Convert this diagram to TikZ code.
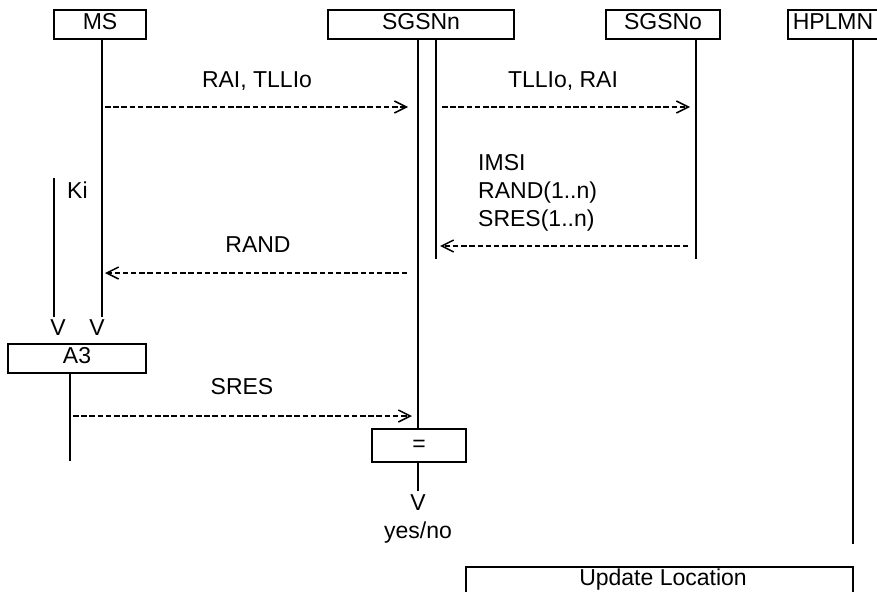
\documentclass[tikz,border=0pt]{standalone}
\usepackage{fontspec}
\setmainfont{Liberation Sans}
\usetikzlibrary{arrows.meta}
\begin{document}
\begin{tikzpicture}[x=1pt,y=-1pt,
  every node/.style={font=\fontsize{23}{28}\selectfont},
  entity/.style={draw,line width=1.5pt,inner xsep=0pt,inner ysep=0pt,minimum height=29pt,text height=20pt,text depth=9pt},
  life/.style={line width=1.5pt},
  msg/.style={line width=1.3pt,dash pattern=on 5.5pt off 2.7pt,-{Straight Barb[length=12pt,width=12pt,line width=1.5pt]}},
  lbl/.style={anchor=base,inner sep=0pt}]
\useasboundingbox (0,0) rectangle (877,591);
\clip (0,0) rectangle (877,591);
% entities
\node[entity,minimum width=92pt] (ms) at (100,24.5) {MS};
\node[entity,minimum width=186pt] (sgsnn) at (421,24.5) {SGSNn};
\node[entity,minimum width=114pt] (sgsno) at (663,24.5) {SGSNo};
\node[entity,anchor=west,minimum width=120pt,text width=110pt,inner xsep=5pt,align=left] (hplmn) at (787,24.5) {HPLMN};
% lifeline coordinates
\coordinate (msT) at (102,39);   \coordinate (msB) at (102,317);
\coordinate (kiT) at (54,178);   \coordinate (kiB) at (54,317);
\coordinate (nAT) at (418,39);
\coordinate (nBT) at (436,39);   \coordinate (nBB) at (436,259);
\coordinate (oT) at (696,39);    \coordinate (oB) at (696,259);
\coordinate (hT) at (853,39);    \coordinate (hB) at (853,544);
% boxes
\node[entity,minimum width=138pt,text height=19pt,text depth=10pt] (a3) at (77,358.5) {A3};
\node[draw,line width=1.5pt,minimum width=94pt,minimum height=33pt,inner sep=0pt] (eq) at (419,445.5) {=};
\node[draw,line width=1.5pt,anchor=north,minimum width=387pt,inner sep=0pt,text height=19pt,text depth=31pt] (ul) at (659.5,566) {\hspace*{7pt}Update Location};
\coordinate (a3B) at (70,461);
\coordinate (eqB) at (418,491);
% lifelines
\draw[life] (msT) -- (msB);
\draw[life] (kiT) -- (kiB);
\draw[life] (nAT) -- (eq.north -| nAT);
\draw[life] (nBT) -- (nBB);
\draw[life] (oT) -- (oB);
\draw[life] (hT) -- (hB);
\draw[life] (a3.south -| a3B) -- (a3B);
\draw[life] (eq.south -| eqB) -- (eqB);
% V marks
\node[lbl] (v1) at (58,335) {V};
\node[lbl] (v2) at (97,335) {V};
\node[lbl] (v3) at (418,510) {V};
\node[lbl] (yn) at (418,538) {yes/no};
\node[lbl,anchor=base west] (ki) at (67,198) {Ki};
% messages
\coordinate (m1a) at (105,107); \coordinate (m1b) at (408,107);
\coordinate (m2a) at (442,107); \coordinate (m2b) at (690,107);
\coordinate (m3a) at (688,246); \coordinate (m3b) at (440,246);
\coordinate (m4a) at (407,273); \coordinate (m4b) at (105,273);
\coordinate (m5a) at (73,416);  \coordinate (m5b) at (412,416);
\draw[msg] (m1a) -- (m1b);
\draw[msg] (m2a) -- (m2b);
\draw[msg] (m3a) -- (m3b);
\draw[msg] (m4a) -- (m4b);
\draw[msg] (m5a) -- (m5b);
\node[lbl] (l1) at (257,88) {RAI, TLLIo};
\node[lbl] (l2) at (563,88) {TLLIo, RAI};
\node[lbl] (l4) at (258,252) {RAND};
\node[lbl] (l5) at (242,394) {SRES};
\node[anchor=base west,inner sep=0pt,align=left] (l3) at (478,226) {IMSI\\RAND(1..n)\\SRES(1..n)};
\end{tikzpicture}
\end{document}
